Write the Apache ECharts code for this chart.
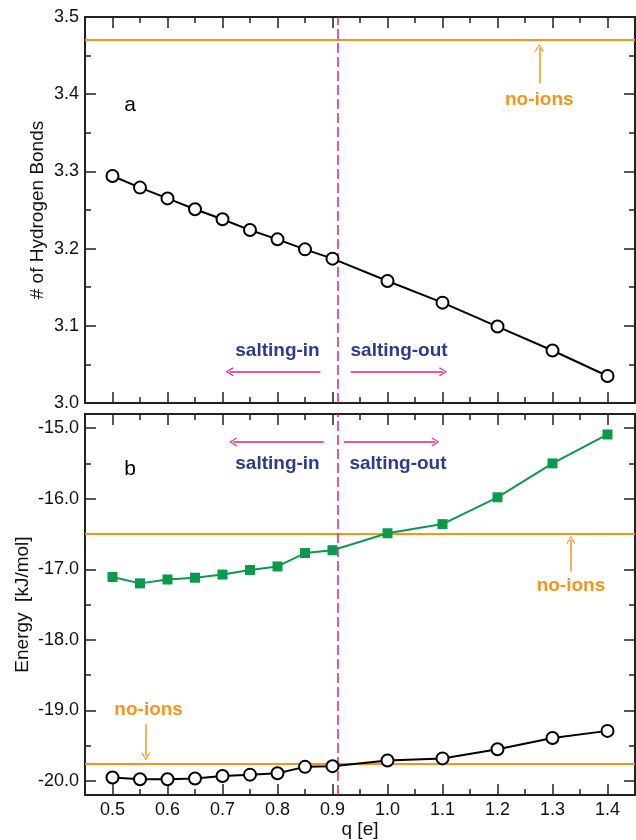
<!DOCTYPE html>
<html><head><meta charset="utf-8">
<script src="https://cdn.jsdelivr.net/npm/echarts@6/dist/echarts.min.js"></script>
<style>html,body{margin:0;padding:0;background:#fff}#c{width:636px;height:840px}</style>
</head><body><div id="c"></div>
<script>
// ---- data ----
const charge = [0.5,0.55,0.6,0.65,0.7,0.75,0.8,0.85,0.9,1.0,1.1,1.2,1.3,1.4];
const hbonds = [3.294,3.279,3.265,3.251,3.238,3.224,3.212,3.199,3.187,3.158,3.130,3.099,3.068,3.035];
const energyGreen = [-17.11,-17.20,-17.145,-17.12,-17.075,-17.01,-16.96,-16.77,-16.73,-16.49,-16.36,-15.98,-15.50,-15.09];
const energyBlack = [-19.95,-19.975,-19.975,-19.965,-19.93,-19.91,-19.89,-19.80,-19.79,-19.71,-19.68,-19.55,-19.39,-19.29];
const noIonsHB = 3.47;
const noIonsGreen = -16.49;
const noIonsBlack = -19.75;
const boundaryQ = 0.905;
// ticks
const xMajor = [0.5,0.6,0.7,0.8,0.9,1.0,1.1,1.2,1.3,1.4];
const xMinor = [0.55,0.65,0.75,0.85,0.95,1.05,1.15,1.25,1.35];
const yTopMajor = [3.0,3.1,3.2,3.3,3.4,3.5];
const yTopMinor = [3.05,3.15,3.25,3.35,3.45];
const yBotMajor = [-20,-19,-18,-17,-16,-15];
const yBotMinor = [-19.5,-18.5,-17.5,-16.5,-15.5];
// annotations (data coordinates)
const topTexts = [
  {t:'a', c:[0.532,3.386], k:'plain'},
  {t:'no-ions', c:[1.276,3.393], k:'orange'},
  {t:'salting-in', c:[0.80,3.068], k:'blue'},
  {t:'salting-out', c:[1.021,3.068], k:'blue'}
];
const topArrows = [
  {a:[1.276,3.414], b:[1.276,3.460], k:'orange'},
  {a:[0.878,3.0405], b:[0.713,3.0405], k:'magenta'},
  {a:[0.933,3.0405], b:[1.101,3.0405], k:'magenta'}
];
const botTexts = [
  {t:'b', c:[0.532,-15.58], k:'plain'},
  {t:'salting-in', c:[0.80,-15.50], k:'blue'},
  {t:'salting-out', c:[1.019,-15.50], k:'blue'},
  {t:'no-ions', c:[1.3335,-17.24], k:'orange'},
  {t:'no-ions', c:[0.5657,-18.99], k:'orange'}
];
const botArrows = [
  {a:[0.884,-15.196], b:[0.7195,-15.196], k:'magenta'},
  {a:[0.9207,-15.196], b:[1.087,-15.196], k:'magenta'},
  {a:[1.3335,-17.03], b:[1.3335,-16.586], k:'orange'},
  {a:[0.5605,-19.196], b:[0.5605,-19.65], k:'orange'}
];

// ---- style ----
const FONT = 'Liberation Sans, Arial, Helvetica, sans-serif';
const ORANGE = '#f7941d', MAGENTA = '#e0218a', BLUE = '#2e3a92', GREEN = '#0b9a4b', FRAME = '#222';
const colorOf = {orange:ORANGE, magenta:MAGENTA, blue:BLUE, plain:'#000'};
const CHEV = 'path://M5,0 L10,9 L9,10 L5,2.2 L1,10 L0,9 Z';

function xAx(grid, pos, ticks, len, showLabel) {
  return {
    type:'value', gridIndex:grid, position:pos, min:0.45, max:1.45,
    axisLine:{show:true, onZero:false, lineStyle:{color:FRAME, width:2}},
    axisTick:{show:true, inside:true, length:len, customValues:ticks, lineStyle:{color:FRAME, width:1.5}},
    axisLabel:{show:showLabel, customValues:xMajor, formatter:v=>v.toFixed(1), margin:6,
      fontFamily:FONT, fontSize:18, color:'#111'},
    splitLine:{show:false}
  };
}
function yAx(grid, pos, min, max, ticks, labTicks, len, showLabel, name, gap) {
  return {
    type:'value', gridIndex:grid, position:pos, min:min, max:max,
    axisLine:{show:true, onZero:false, lineStyle:{color:FRAME, width:2}},
    axisTick:{show:true, inside:true, length:len, customValues:ticks, lineStyle:{color:FRAME, width:1.5}},
    axisLabel:{show:showLabel, customValues:labTicks, formatter:v=>v.toFixed(1), margin:6,
      fontFamily:FONT, fontSize:18, color:'#111'},
    splitLine:{show:false},
    name:name||'', nameLocation:'middle', nameGap:gap||0, nameMoveOverlap:false,
    nameTextStyle:{fontFamily:FONT, fontSize:19, color:'#111'}
  };
}

const xAxes = [
  xAx(0,'bottom',xMajor,11,false), xAx(0,'bottom',xMinor,6,false),
  xAx(0,'top',xMajor,11,false), xAx(0,'top',xMinor,6,false),
  xAx(1,'bottom',xMajor,11,true), xAx(1,'bottom',xMinor,6,false),
  xAx(1,'top',xMajor,11,false), xAx(1,'top',xMinor,6,false)
];
xAxes[4].name = 'q [e]';
xAxes[4].nameLocation = 'middle';
xAxes[4].nameGap = 20;
xAxes[4].nameTextStyle = {fontFamily:FONT, fontSize:19, color:'#111'};

const yAxes = [
  yAx(0,'left',3.0,3.5,yTopMajor,yTopMajor,11,true,'# of Hydrogen Bonds',38),
  yAx(0,'left',3.0,3.5,yTopMinor,yTopMajor,6,false),
  yAx(0,'right',3.0,3.5,yTopMajor,yTopMajor,11,false),
  yAx(0,'right',3.0,3.5,yTopMinor,yTopMajor,6,false),
  yAx(1,'left',-20.2,-14.8,yBotMajor,yBotMajor,11,true,'Energy  [kJ/mol]',53),
  yAx(1,'left',-20.2,-14.8,yBotMinor,yBotMajor,6,false),
  yAx(1,'right',-20.2,-14.8,yBotMajor,yBotMajor,11,false),
  yAx(1,'right',-20.2,-14.8,yBotMinor,yBotMajor,6,false)
];

function zip(xs, ys){ return xs.map((x,i)=>[x, ys[i]]); }

function hLine(v){ return {
  silent:true, symbol:['none','none'], label:{show:false}, animation:false,
  lineStyle:{color:ORANGE, width:2, type:'solid'}, emphasis:{disabled:true},
  data:[{yAxis:v}]
};}

function annot(xi, yi, texts, arrows) {
  const s = [];
  arrows.forEach(ar => {
    s.push({type:'line', xAxisIndex:xi, yAxisIndex:yi, data:[], silent:true,
      markLine:{silent:true, animation:false, label:{show:false}, symbol:['none', CHEV], symbolSize:[9,8],
        lineStyle:{color:colorOf[ar.k], width:1.5, type:'solid'}, emphasis:{disabled:true},
        data:[[{coord:ar.a},{coord:ar.b}]]}});
  });
  s.push({type:'line', xAxisIndex:xi, yAxisIndex:yi, data:[], silent:true,
    markPoint:{silent:true, animation:false, symbol:'circle', symbolSize:0,
      data:texts.map(t=>({name:t.t, coord:t.c, label:{show:true, position:'inside', formatter:'{b}',
        fontFamily:FONT, fontSize: t.k==='plain' ? 21 : 19, fontWeight: t.k==='plain' ? 'normal' : 'bold', color:colorOf[t.k]}}))}});
  return s;
}

function vDash(){ return {
  silent:true, symbol:['none','none'], label:{show:false}, animation:false,
  lineStyle:{color:MAGENTA, width:1.5, type:[10,4]}, emphasis:{disabled:true},
  data:[{xAxis:boundaryQ}]
};}

const series = [
  {type:'line', xAxisIndex:0, yAxisIndex:0, data:zip(charge,hbonds),
   symbol:'emptyCircle', symbolSize:12, lineStyle:{color:'#000', width:2},
   itemStyle:{color:'#000', borderWidth:1.6}, z:5, markLine:hLine(noIonsHB)},
  {type:'line', xAxisIndex:0, yAxisIndex:0, data:[], markLine:vDash()},
  {type:'line', xAxisIndex:4, yAxisIndex:4, data:zip(charge,energyGreen),
   symbol:'rect', symbolSize:10, lineStyle:{color:GREEN, width:2},
   itemStyle:{color:GREEN}, z:5, markLine:hLine(noIonsGreen)},
  {type:'line', xAxisIndex:4, yAxisIndex:4, data:zip(charge,energyBlack),
   symbol:'emptyCircle', symbolSize:12, lineStyle:{color:'#000', width:2},
   itemStyle:{color:'#000', borderWidth:1.6}, z:5, markLine:hLine(noIonsBlack)},
  {type:'line', xAxisIndex:4, yAxisIndex:4, data:[], markLine:vDash()},
  ...annot(0,0,topTexts,topArrows),
  ...annot(4,4,botTexts,botArrows)
];

const chart = echarts.init(document.getElementById('c'), null, {renderer:'canvas'});
chart.setOption({
  animation:false,
  backgroundColor:'#fff',
  grid:[
    {left:85, top:17, width:550, height:386},
    {left:85, top:414, width:550, height:386}
  ],
  xAxis:xAxes, yAxis:yAxes, series:series
});
</script></body></html>
